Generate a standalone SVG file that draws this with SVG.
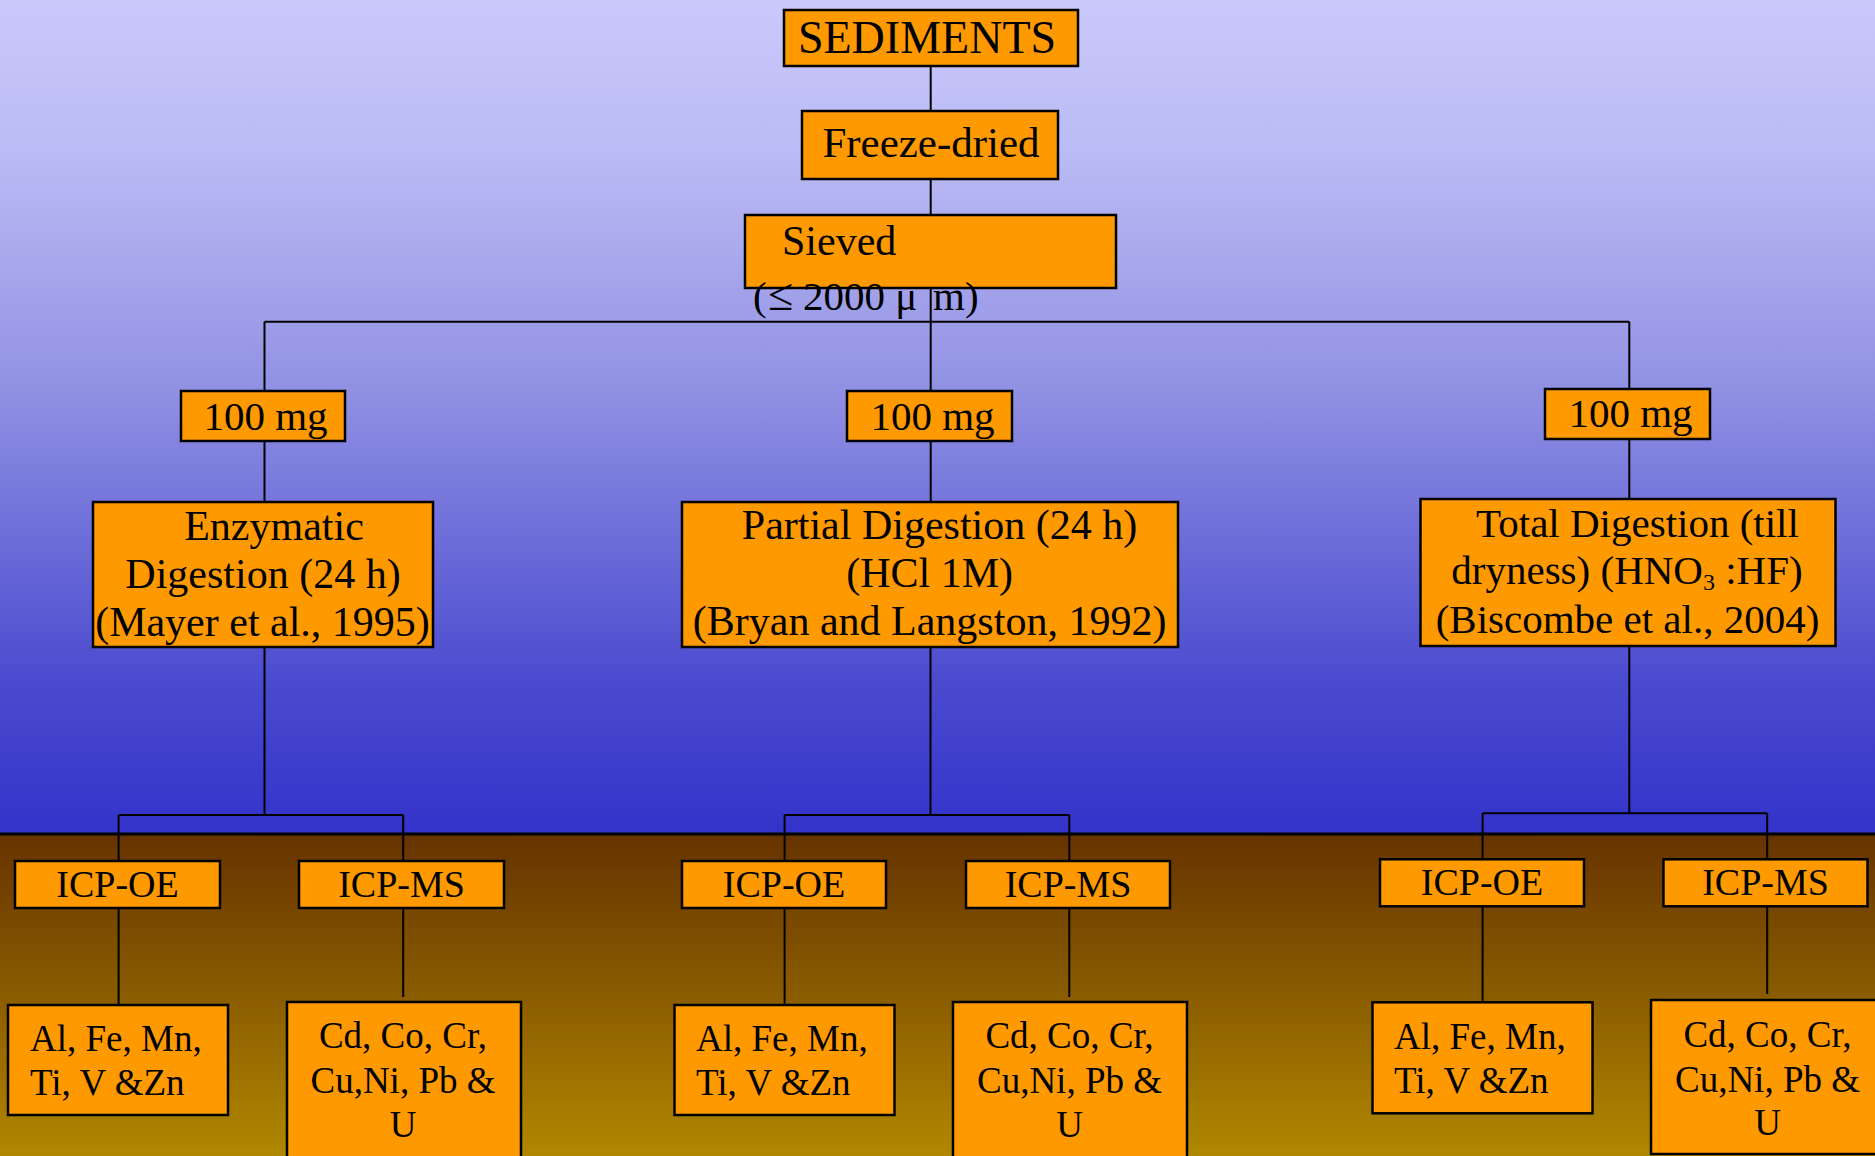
<svg xmlns="http://www.w3.org/2000/svg" width="1875" height="1156" viewBox="0 0 1875 1156">
<defs>
<linearGradient id="skyG" x1="0" y1="0" x2="0" y2="1">
<stop offset="0" stop-color="#C9C9FC"/>
<stop offset="0.18" stop-color="#BBBBF5"/>
<stop offset="0.46" stop-color="#9292E4"/>
<stop offset="0.82" stop-color="#4A4ACF"/>
<stop offset="1" stop-color="#3333CA"/>
</linearGradient>
<linearGradient id="soilG" x1="0" y1="0" x2="0" y2="1">
<stop offset="0" stop-color="#663300"/>
<stop offset="0.5" stop-color="#8A5C00"/>
<stop offset="1" stop-color="#B08800"/>
</linearGradient>
<style>
.box{fill:#FF9900;stroke:#000;stroke-width:2.5}
.ln{stroke:#000;stroke-width:2;fill:none}
.pa{font-family:"Liberation Serif","Times New Roman",serif;font-size:42px;fill:#000;text-anchor:middle}
.tm{font-family:"Liberation Serif","Times New Roman",serif;font-size:38px;fill:#000;text-anchor:middle}
.el{font-family:"Liberation Serif","Times New Roman",serif;font-size:37px;fill:#000}
.mid{text-anchor:middle}
.tot{font-size:41px}
</style>
</defs>
<rect x="0" y="0" width="1875" height="834" fill="url(#skyG)"/>
<rect x="0" y="834" width="1875" height="322" fill="url(#soilG)"/>
<line x1="0" y1="834" x2="1875" y2="834" stroke="#000" stroke-width="3"/>

<g id="connectors">
<path class="ln" d="M930.7 66 V111 M930.7 179 V215 M930.7 288 V391"/>
<path class="ln" d="M264.5 321.7 H1629.3 M264.5 321.7 V391 M1629.3 321.7 V389"/>
<path class="ln" d="M264.5 441 V502 M930.7 441 V502 M1629.3 439 V499"/>
<path class="ln" d="M264.5 647 V815 M118.6 815 H403.2 M118.6 815 V861 M403.2 815 V861"/>
<path class="ln" d="M930.5 647 V815 M784.6 815 H1069.3 M784.6 815 V861 M1069.3 815 V861"/>
<path class="ln" d="M1629.3 646 V813.3 M1482.6 813.3 H1767.2 M1482.6 813.3 V859.3 M1767.2 813.3 V859.3"/>
<path class="ln" d="M118.6 908 V1005 M403.2 908 V997"/>
<path class="ln" d="M784.6 908 V1005 M1069.3 908 V997"/>
<path class="ln" d="M1482.6 906 V1002 M1767.2 906 V994"/>
</g>

<g id="sediments">
<rect class="box" x="784" y="10" width="294" height="56"/>
<text class="pa" x="927" y="53" style="font-size:46px">SEDIMENTS</text>
</g>
<g id="freeze-dried">
<rect class="box" x="802" y="111" width="256" height="68"/>
<text class="pa" x="931" y="157" style="font-size:43px">Freeze-dried</text>
</g>
<g id="sieved">
<rect class="box" x="745" y="215" width="371" height="73"/>
<text class="pa" x="782" y="255" style="text-anchor:start">Sieved</text>
<text class="pa" y="310" style="text-anchor:start;font-size:41px"><tspan x="753">(</tspan><tspan x="768" style="font-size:46px">≤</tspan><tspan x="803">2000 μ </tspan><tspan x="933">m)</tspan></text>
</g>

<g id="mass-left">
<rect class="box" x="181" y="391" width="164" height="50"/>
<text class="pa" x="265.5" y="430" style="font-size:41px">100 mg</text>
</g>
<g id="mass-mid">
<rect class="box" x="847" y="391" width="165" height="50"/>
<text class="pa" x="932.5" y="430" style="font-size:41px">100 mg</text>
</g>
<g id="mass-right">
<rect class="box" x="1545" y="389" width="165" height="50"/>
<text class="pa" x="1630.5" y="427" style="font-size:41px">100 mg</text>
</g>

<g id="enzymatic">
<rect class="box" x="93" y="502" width="340" height="145"/>
<text class="pa" x="274" y="540">Enzymatic</text>
<text class="pa" x="263" y="587.5">Digestion (24 h)</text>
<text class="pa" x="262.5" y="636">(Mayer et al., 1995)</text>
</g>
<g id="partial">
<rect class="box" x="682" y="502" width="496" height="145"/>
<text class="pa" x="939.5" y="538.5">Partial Digestion (24 h)</text>
<text class="pa" x="929.6" y="587">(HCl 1M)</text>
<text class="pa" x="929.6" y="635">(Bryan and Langston, 1992)</text>
</g>
<g id="total">
<rect class="box" x="1420.5" y="499" width="415" height="147"/>
<text class="pa tot" x="1637.5" y="537.3">Total Digestion (till</text>
<text class="pa tot" x="1627" y="584">dryness) (HNO<tspan dy="6" style="font-size:24px">3</tspan><tspan dy="-6"> :HF)</tspan></text>
<text class="pa tot" x="1627.5" y="632.7">(Biscombe et al., 2004)</text>
</g>

<g id="icp-oe-left">
<rect class="box" x="15" y="861" width="205" height="47"/>
<text class="tm" x="117.5" y="896.7">ICP-OE</text>
</g>
<g id="icp-ms-left">
<rect class="box" x="299" y="861" width="205" height="47"/>
<text class="tm" x="401.5" y="896.7">ICP-MS</text>
</g>
<g id="icp-oe-mid">
<rect class="box" x="682" y="861" width="204" height="47"/>
<text class="tm" x="784" y="896.7">ICP-OE</text>
</g>
<g id="icp-ms-mid">
<rect class="box" x="966" y="861" width="204" height="47"/>
<text class="tm" x="1068" y="896.7">ICP-MS</text>
</g>
<g id="icp-oe-right">
<rect class="box" x="1380" y="859.3" width="204" height="47"/>
<text class="tm" x="1482" y="895">ICP-OE</text>
</g>
<g id="icp-ms-right">
<rect class="box" x="1663.5" y="859.3" width="204" height="47"/>
<text class="tm" x="1765.5" y="895">ICP-MS</text>
</g>

<g id="elements-oe-left">
<rect class="box" x="8" y="1005" width="220" height="110"/>
<text class="el" x="30" y="1050.7">Al, Fe, Mn,</text>
<text class="el" x="30" y="1095">Ti, V &amp;Zn</text>
</g>
<g id="elements-ms-left">
<rect class="box" x="287" y="1002" width="234" height="160"/>
<text class="el mid" x="403" y="1048.3">Cd, Co, Cr,</text>
<text class="el mid" x="403" y="1093.3">Cu,Ni, Pb &amp;</text>
<text class="el mid" x="403" y="1136.7">U</text>
</g>
<g id="elements-oe-mid">
<rect class="box" x="674.5" y="1005" width="220" height="110"/>
<text class="el" x="696" y="1050.7">Al, Fe, Mn,</text>
<text class="el" x="696" y="1095">Ti, V &amp;Zn</text>
</g>
<g id="elements-ms-mid">
<rect class="box" x="953" y="1002" width="234" height="160"/>
<text class="el mid" x="1069.5" y="1048.3">Cd, Co, Cr,</text>
<text class="el mid" x="1069.5" y="1093.3">Cu,Ni, Pb &amp;</text>
<text class="el mid" x="1069.5" y="1136.7">U</text>
</g>
<g id="elements-oe-right">
<rect class="box" x="1372.5" y="1002.3" width="220" height="111"/>
<text class="el" x="1394" y="1049.3">Al, Fe, Mn,</text>
<text class="el" x="1394" y="1093.3">Ti, V &amp;Zn</text>
</g>
<g id="elements-ms-right">
<rect class="box" x="1651" y="1000" width="234" height="154"/>
<text class="el mid" x="1767.5" y="1046.7">Cd, Co, Cr,</text>
<text class="el mid" x="1767.5" y="1091.7">Cu,Ni, Pb &amp;</text>
<text class="el mid" x="1767.5" y="1135">U</text>
</g>
</svg>
